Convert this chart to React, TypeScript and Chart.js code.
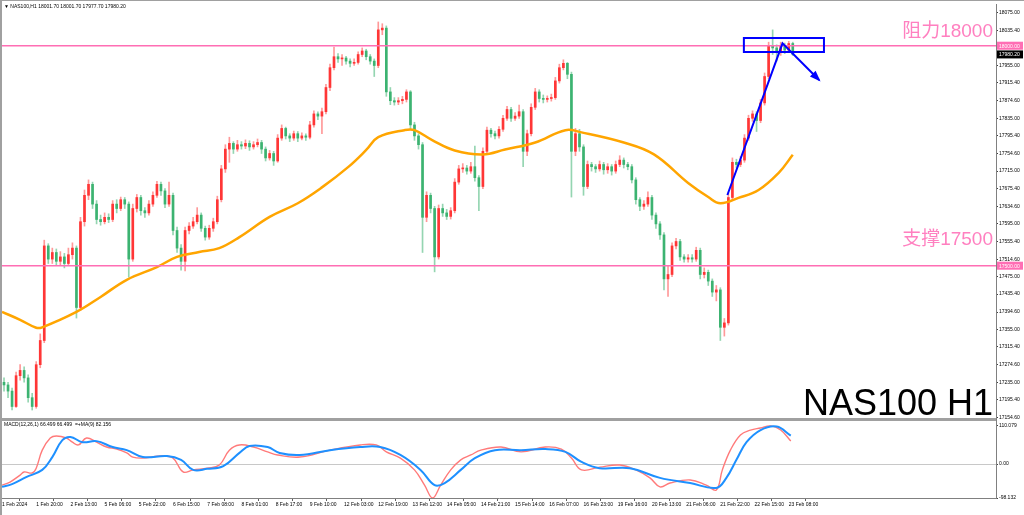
import React, { useEffect, useRef } from "react";
import { Chart, registerables } from "chart.js";

Chart.register(...registerables);

// ---- Data (2-hour candles, x = hour index from 1 Feb 2024) ----
const firstOpen = 17235;
const closes = [
  17229, 17215, 17180, 17250, 17262, 17245, 17200, 17180, 17275, 17330,
  17545, 17515, 17530, 17510, 17520, 17505, 17525, 17540, 17405, 17600,
  17660, 17685, 17640, 17605, 17600, 17610, 17605, 17640, 17630, 17650,
  17640, 17515, 17630, 17655, 17625, 17620, 17640, 17660, 17685, 17670,
  17640, 17660, 17580, 17540, 17510, 17580, 17590, 17600, 17615, 17585,
  17565, 17585, 17600, 17650, 17720, 17765, 17778, 17765, 17775, 17772,
  17778, 17770, 17775, 17780, 17765, 17745, 17755, 17738, 17790, 17812,
  17795, 17790, 17800, 17790, 17795, 17792, 17820, 17845, 17840, 17850,
  17905, 17950, 17975, 17970, 17972, 17965, 17960, 17962, 17980, 17988,
  17975, 17965, 17955, 18036, 18040, 17895, 17875, 17872, 17875, 17878,
  17895, 17820, 17795, 17775, 17610, 17660, 17630, 17520, 17630, 17620,
  17612, 17625, 17690, 17720, 17722, 17715, 17725, 17700, 17680, 17760,
  17808, 17800, 17795, 17810, 17835, 17855, 17835, 17840, 17850, 17760,
  17800, 17860, 17895, 17880, 17878, 17880, 17882, 17920, 17950, 17960,
  17935, 17760, 17800, 17770, 17680, 17730, 17725, 17720, 17730, 17718,
  17725, 17715, 17730, 17740, 17730, 17725, 17695, 17650, 17635, 17640,
  17655, 17615, 17595, 17570, 17470, 17480, 17545, 17555, 17520, 17515,
  17518, 17515, 17535, 17480, 17485, 17465, 17440, 17445, 17360, 17370,
  17655, 17735, 17730, 17740, 17790, 17835, 17845, 17830, 17870, 17930,
  18000, 17995, 17985, 18000, 17990, 18005, 17980.2,
];
const highs = [
  17245, 17235, 17222, 17258, 17275, 17270, 17252, 17210, 17282, 17345,
  17558, 17550, 17540, 17538, 17532, 17528, 17540, 17552, 17545, 17610,
  17672, 17695, 17690, 17648, 17615, 17620, 17618, 17648, 17650, 17656,
  17655, 17645, 17640, 17662, 17660, 17632, 17648, 17668, 17692, 17690,
  17675, 17690, 17665, 17588, 17548, 17588, 17598, 17610, 17632, 17620,
  17590, 17592, 17608, 17658, 17728, 17775, 17792, 17782, 17785, 17782,
  17786, 17784, 17782, 17788, 17785, 17770, 17762, 17760, 17798, 17820,
  17815, 17800, 17806, 17805, 17802, 17800, 17828, 17852, 17850, 17858,
  17912, 17958, 17997, 17982, 17980, 17976, 17970, 17970, 17986, 17995,
  17992, 17980, 17970, 18054, 18050, 18045, 17905, 17882, 17882, 17885,
  17900, 17898, 17826, 17800, 17780, 17668, 17665, 17635, 17638, 17640,
  17628, 17632, 17698, 17728, 17732, 17728, 17735, 17772, 17705, 17768,
  17815, 17812, 17806, 17816, 17842, 17862, 17860, 17848, 17865, 17855,
  17808, 17868, 17903, 17900, 17888, 17886, 17890, 17928, 17958, 17968,
  17962, 17940, 17812, 17810, 17775, 17738, 17735, 17730, 17738, 17735,
  17732, 17730, 17738, 17750, 17745, 17735, 17730, 17700, 17655, 17648,
  17668, 17660, 17620, 17600, 17575, 17500, 17552, 17562, 17560, 17525,
  17525, 17525, 17542, 17540, 17495, 17490, 17470, 17455, 17450, 17380,
  17665, 17745, 17742, 17748, 17798, 17842, 17852, 17850, 17878, 17938,
  18008, 18036, 18002, 18008, 18006, 18010, 18008,
];
const lows = [
  17215, 17200, 17172, 17178, 17240, 17235, 17190, 17172, 17176, 17268,
  17325, 17505, 17505, 17500, 17502, 17495, 17500, 17515, 17381, 17398,
  17590, 17650, 17630, 17595, 17592, 17595, 17598, 17600, 17620, 17625,
  17630, 17474, 17510, 17622, 17615, 17610, 17615, 17635, 17655, 17660,
  17632, 17635, 17570, 17530, 17490, 17488, 17572, 17585, 17595, 17578,
  17558, 17560, 17578, 17595, 17645, 17712, 17735, 17755, 17760, 17765,
  17766, 17762, 17765, 17770, 17755, 17738, 17740, 17728, 17735, 17785,
  17788, 17782, 17785, 17782, 17786, 17785, 17788, 17815, 17832, 17800,
  17845, 17898, 17945, 17962, 17955, 17958, 17952, 17955, 17958, 17975,
  17968, 17958, 17930, 17950, 18025, 17885, 17866, 17865, 17866, 17868,
  17872, 17810, 17785, 17765, 17530, 17600, 17620, 17486, 17515, 17612,
  17605, 17606, 17620, 17685, 17712, 17708, 17710, 17692, 17625, 17675,
  17755, 17792, 17788, 17790, 17805, 17830, 17828, 17830, 17835, 17725,
  17750, 17795, 17855, 17872, 17870, 17872, 17874, 17878, 17915, 17945,
  17925, 17656, 17750, 17760, 17660, 17675, 17715, 17712, 17715, 17708,
  17710, 17706, 17710, 17725, 17722, 17718, 17688, 17640, 17625, 17628,
  17635, 17605, 17585, 17560, 17445, 17430, 17475, 17538, 17512, 17508,
  17508, 17508, 17510, 17470, 17472, 17455, 17430, 17420, 17330, 17340,
  17365, 17650, 17722, 17725, 17735, 17785, 17828, 17805, 17825, 17865,
  17925, 17980, 17965, 17978, 17982, 17985, 17977.7,
];

// Moving average (orange) read at hour positions
const maHours = [0, 9, 17, 20, 37, 49, 62, 77, 87, 98, 108, 118, 133, 147, 159, 172, 181, 187, 200, 205, 214, 225, 239, 250, 265, 280, 288, 309, 324, 341, 351, 357, 366, 376, 386, 393];
const maValues = [17395, 17377, 17359, 17360, 17395, 17429, 17468, 17497, 17520, 17531, 17540, 17565, 17611, 17642, 17678, 17724, 17763, 17792, 17808, 17808, 17785, 17762, 17753, 17764, 17780, 17808, 17803, 17780, 17753, 17688, 17656, 17642, 17654, 17672, 17711, 17752];

// MACD main (red) and signal (blue)
const macdHours = [0, 4, 9, 11, 15, 17, 20, 24, 27, 32, 35, 38, 42, 47, 52, 57, 62, 65, 70, 79, 85, 90, 95, 102, 108, 113, 118, 125, 132, 137, 148, 163, 178, 186, 191, 198, 205, 210, 214, 218, 223, 228, 233, 238, 248, 258, 270, 278, 283, 288, 297, 307, 315, 322, 327, 332, 342, 350, 355, 358, 362, 367, 372, 377, 382, 387, 392];
const macdValues = [-61, -52, -32, -23, -26, -12, 40, 75, 81, 75, 63, 55, 75, 63, 49, 43, 32, 20, 17, 23, 17, -23, -17, -12, -3, 40, 55, 49, 35, 26, 20, 40, 55, 55, 35, 17, -17, -61, -98, -61, -17, 12, 26, 40, 49, 35, 49, 43, 17, -17, -9, -3, -17, -40, -66, -55, -46, -61, -75, -17, 40, 84, 98, 104, 110, 98, 66.5];
const signalHours = [0, 5, 12, 20, 25, 30, 34, 40, 47, 55, 62, 70, 82, 89, 95, 102, 110, 118, 123, 132, 138, 148, 163, 178, 188, 198, 208, 215, 220, 228, 235, 245, 258, 270, 280, 288, 297, 312, 327, 342, 355, 360, 365, 370, 377, 385, 392];
const signalValues = [-66, -58, -38, -17, 20, 69, 78, 63, 66, 49, 40, 20, 23, 12, -17, -14, -6, 32, 52, 49, 32, 26, 40, 49, 49, 26, -17, -61, -55, -17, 17, 40, 40, 43, 35, 6, -12, -12, -40, -55, -69, -40, 12, 63, 98, 108, 82.156];

// Axis labels
const xTickHours = [0, 17, 34, 51, 68, 85, 102, 119, 136, 153, 170, 187, 204, 221, 238, 255, 272, 289, 306, 323, 340, 357, 374, 391];
const xTickLabels = [
  "1 Feb 2024", "1 Feb 20:00", "2 Feb 13:00", "5 Feb 06:00", "5 Feb 22:00", "6 Feb 15:00",
  "7 Feb 08:00", "8 Feb 01:00", "8 Feb 17:00", "9 Feb 10:00", "12 Feb 03:00", "12 Feb 19:00",
  "13 Feb 12:00", "14 Feb 05:00", "14 Feb 21:00", "15 Feb 14:00", "16 Feb 07:00", "16 Feb 23:00",
  "19 Feb 16:00", "20 Feb 13:00", "21 Feb 06:00", "21 Feb 22:00", "22 Feb 15:00", "23 Feb 08:00",
];
const priceTicks = [18075.0, 18035.4, 17994.6, 17955.0, 17915.4, 17874.6, 17835.0, 17795.4, 17754.6, 17715.0, 17675.4, 17634.6, 17595.0, 17555.4, 17514.6, 17475.0, 17435.4, 17394.6, 17355.0, 17315.4, 17274.6, 17235.0, 17195.4, 17154.6];
const macdTicks = [110.079, 0, -98.132];
const macdTickLabels = ["110.079", "0.00", "-98.132"];

const resistance = 18000;
const support = 17500;
const lastPrice = 17980.2;
const headerText = "▼ NAS100,H1 18001.70 18001.70 17977.70 17980.20";
const macdText = "MACD(12,26,1) 66.499 66.499  =+MA(9) 82.156";
const resistanceText = "阻力18000";
const supportText = "支撑17500";
const titleText = "NAS100 H1";

// annotation objects in data units (hour, price)
const boxHours = [368.7, 408.5];
const boxPrices = [18017.5, 17985.7];
const arrowHours = [360.5, 387.9, 406.1];
const arrowPrices = [17660.7, 18005.5, 17922];

const opens = closes.map((_, i) => (i === 0 ? firstOpen : closes[i - 1]));
const UP = "#ff3636";
const DOWN = "#3cb371";
const UP_W = "rgba(255,70,70,0.55)";
const DOWN_W = "rgba(60,179,113,0.55)";
const PINK = "#ff6eb4";

const overlay = {
  id: "overlay",
  beforeDatasetsDraw(chart: any) {
    const { ctx, chartArea: ca, scales } = chart;
    const y2 = scales.y2;
    ctx.save();
    ctx.strokeStyle = "#c8c8c8";
    ctx.lineWidth = 1;
    const z = Math.round(y2.getPixelForValue(0)) + 0.5;
    ctx.beginPath();
    ctx.moveTo(ca.left, z);
    ctx.lineTo(ca.right, z);
    ctx.stroke();
    ctx.restore();
  },
  afterDraw(chart: any) {
    const { ctx, chartArea: ca, scales } = chart;
    const x = scales.x, y = scales.y, y2 = scales.y2;
    ctx.save();
    // frame
    ctx.fillStyle = "#a0a0a0";
    ctx.fillRect(0, 0, 2, 515);
    ctx.fillRect(0, 0, 1024, 1);
    ctx.fillRect(ca.left, y.bottom - 2, ca.right - ca.left, 3);

    // pink lines
    ctx.strokeStyle = PINK;
    ctx.lineWidth = 1.6;
    for (const v of [resistance, support]) {
      const py = y.getPixelForValue(v);
      ctx.beginPath();
      ctx.moveTo(ca.left, py);
      ctx.lineTo(ca.right, py);
      ctx.stroke();
    }

    // big texts
    ctx.fillStyle = "#ff80c0";
    ctx.font = '19px "Liberation Sans", "Noto Sans CJK SC"';
    ctx.textAlign = "right";
    ctx.textBaseline = "middle";
    ctx.fillText(resistanceText, ca.right - 3, y.getPixelForValue(resistance) - 14);
    ctx.fillText(supportText, ca.right - 3, y.getPixelForValue(support) - 26);

    ctx.fillStyle = "#000";
    ctx.font = '36px "Liberation Sans"';
    ctx.textBaseline = "alphabetic";
    ctx.fillText(titleText, ca.right - 3, y.bottom - 5);

    // blue box + arrows
    ctx.strokeStyle = "#0000ff";
    ctx.lineWidth = 2;
    const bx0 = x.getPixelForValue(boxHours[0]);
    const bx1 = x.getPixelForValue(boxHours[1]);
    const by0 = y.getPixelForValue(boxPrices[0]);
    const by1 = y.getPixelForValue(boxPrices[1]);
    ctx.strokeRect(bx0, by0, bx1 - bx0, by1 - by0);
    const pts = arrowHours.map((h, i) => [x.getPixelForValue(h), y.getPixelForValue(arrowPrices[i])]);
    ctx.beginPath();
    ctx.moveTo(pts[0][0], pts[0][1]);
    ctx.lineTo(pts[1][0], pts[1][1]);
    ctx.lineTo(pts[2][0], pts[2][1]);
    ctx.stroke();
    const [ex, ey] = pts[2];
    const [sx, sy] = pts[1];
    const ang = Math.atan2(ey - sy, ex - sx);
    ctx.fillStyle = "#0000ff";
    ctx.beginPath();
    ctx.moveTo(ex + 2 * Math.cos(ang), ey + 2 * Math.sin(ang));
    ctx.lineTo(ex - 9 * Math.cos(ang) + 4 * Math.sin(ang), ey - 9 * Math.sin(ang) - 4 * Math.cos(ang));
    ctx.lineTo(ex - 9 * Math.cos(ang) - 4 * Math.sin(ang), ey - 9 * Math.sin(ang) + 4 * Math.cos(ang));
    ctx.closePath();
    ctx.fill();

    // axis value boxes
    ctx.font = '5px "Liberation Sans"';
    ctx.textAlign = "left";
    ctx.textBaseline = "middle";
    const boxes: [number, string][] = [[resistance, PINK], [support, PINK], [lastPrice, "#000"]];
    for (const [v, c] of boxes) {
      const py = y.getPixelForValue(v);
      ctx.fillStyle = c;
      ctx.fillRect(y.left + 1, py - 4, 26, 8);
      ctx.fillStyle = "#fff";
      ctx.fillText(v.toFixed(2), y.left + 3, py + 0.5);
    }

    // header texts
    ctx.fillStyle = "#000";
    ctx.font = '5px "Liberation Sans"';
    ctx.fillText(headerText, 4, 7);
    ctx.fillText(macdText, 4, y2.top + 5);
    ctx.restore();
  },
};

export default function App() {
  const ref = useRef<HTMLCanvasElement>(null);
  useEffect(() => {
    document.body.style.margin = "0";
    const bodies = closes.map((c, i) => ({ x: 2 * i + 1, y: [opens[i], c] }));
    const wicks = closes.map((c, i) => ({ x: 2 * i + 1, y: [lows[i], highs[i]] }));
    const isUp = closes.map((c, i) => c >= opens[i]);
    const tickFont = { family: '"Liberation Sans"', size: 5 };
    const chart = new Chart(ref.current as HTMLCanvasElement, {
      type: "bar",
      data: {
        datasets: [
          {
            type: "line",
            data: signalHours.map((h, i) => ({ x: h, y: signalValues[i] })),
            yAxisID: "y2",
            borderColor: "#1e90ff",
            borderWidth: 2,
            pointRadius: 0,
            tension: 0.4,
            order: 0,
          } as any,
          {
            type: "line",
            data: macdHours.map((h, i) => ({ x: h, y: macdValues[i] })),
            yAxisID: "y2",
            borderColor: "#ff7a7a",
            borderWidth: 1.4,
            pointRadius: 0,
            tension: 0.4,
            order: 1,
          } as any,
          {
            type: "line",
            data: maHours.map((h, i) => ({ x: h, y: maValues[i] })),
            yAxisID: "y",
            borderColor: "#ffa500",
            borderWidth: 2.5,
            pointRadius: 0,
            tension: 0.4,
            order: 2,
          } as any,
          {
            type: "bar",
            data: bodies,
            yAxisID: "y",
            backgroundColor: isUp.map((u) => (u ? UP : DOWN)),
            barThickness: 2,
            minBarLength: 1,
            grouped: false,
            borderWidth: 0,
            order: 3,
          } as any,
          {
            type: "bar",
            data: wicks,
            yAxisID: "y",
            backgroundColor: isUp.map((u) => (u ? UP_W : DOWN_W)),
            barThickness: 1,
            grouped: false,
            borderWidth: 0,
            order: 4,
          } as any,
        ],
      },
      options: {
        animation: false,
        responsive: false,
        devicePixelRatio: 1,
        events: [],
        layout: { padding: { left: 2, top: 4, right: 0, bottom: 0 }, autoPadding: false } as any,
        plugins: { legend: { display: false }, tooltip: { enabled: false } },
        scales: {
          x: {
            type: "linear",
            min: 0,
            max: 494,
            offset: false,
            grid: { drawOnChartArea: false, drawTicks: true, tickLength: 3, color: "#606060" },
            border: { display: true, color: "#808080" },
            afterBuildTicks: (s: any) => {
              s.ticks = xTickHours.map((v) => ({ value: v }));
            },
            afterFit: (s: any) => {
              s.height = 17;
            },
            ticks: {
              autoSkip: false,
              maxRotation: 0,
              minRotation: 0,
              align: "start",
              padding: 1,
              color: "#000",
              font: tickFont,
              callback: (v: any) => {
                const k = xTickHours.indexOf(Number(v));
                return k >= 0 ? xTickLabels[k] : "";
              },
            },
          } as any,
          y: {
            type: "linear",
            position: "right",
            stack: "panes",
            stackWeight: 416,
            min: 17149.3,
            max: 18094.8,
            grid: { drawOnChartArea: false, drawTicks: true, tickLength: 2, color: "#404040" },
            border: { display: true, color: "#808080" },
            afterBuildTicks: (s: any) => {
              s.ticks = priceTicks.map((v) => ({ value: v }));
            },
            afterFit: (s: any) => {
              s.width = 28;
            },
            ticks: {
              autoSkip: false,
              crossAlign: "near",
              padding: 1,
              color: "#000",
              font: tickFont,
              callback: (v: any) => Number(v).toFixed(2),
            },
          } as any,
          y2: {
            type: "linear",
            position: "right",
            stack: "panes",
            stackWeight: 78,
            min: -98.132,
            max: 127,
            grid: { drawOnChartArea: false, drawTicks: true, tickLength: 2, color: "#404040" },
            border: { display: true, color: "#808080" },
            afterBuildTicks: (s: any) => {
              s.ticks = macdTicks.map((v) => ({ value: v }));
            },
            afterFit: (s: any) => {
              s.width = 28;
            },
            ticks: {
              autoSkip: false,
              crossAlign: "near",
              padding: 1,
              color: "#000",
              font: tickFont,
              callback: (v: any) => {
                const k = macdTicks.indexOf(Number(v));
                return k >= 0 ? macdTickLabels[k] : "";
              },
            },
          } as any,
        },
      },
      plugins: [overlay],
    });
    return () => chart.destroy();
  }, []);
  return (
    <div style={{ position: "absolute", left: 0, top: 0, width: 1024, height: 515, background: "#fff" }}>
      <canvas ref={ref} width={1024} height={515} style={{ display: "block" }} />
    </div>
  );
}
